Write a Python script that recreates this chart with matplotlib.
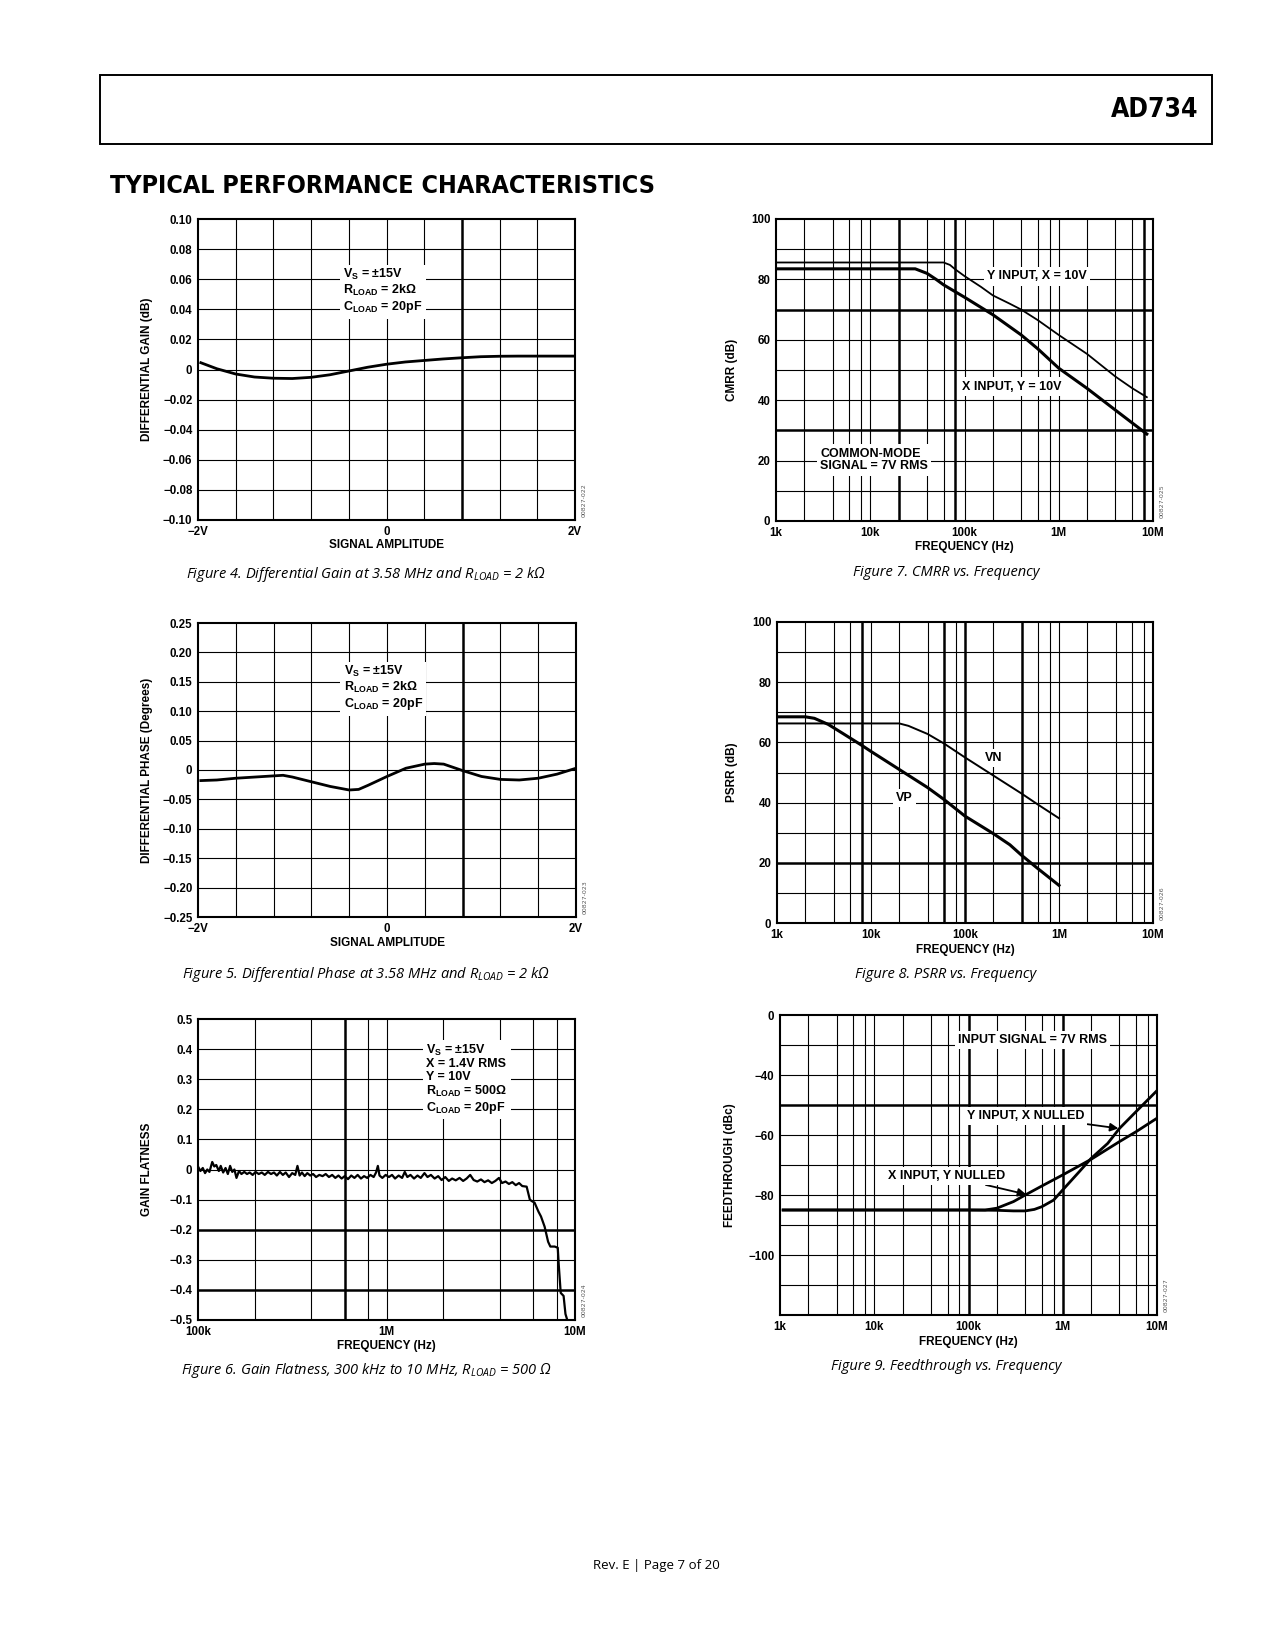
import numpy as np
import matplotlib
matplotlib.use('Agg')
import matplotlib.pyplot as plt
from matplotlib.patches import Rectangle
from matplotlib.ticker import NullLocator

W, H = 1275, 1650

plt.rcParams['font.family'] = ['Liberation Sans', 'DejaVu Sans']
plt.rcParams['font.weight'] = 'bold'
plt.rcParams['axes.labelweight'] = 'bold'
plt.rcParams['mathtext.fontset'] = 'custom'
plt.rcParams['mathtext.bf'] = 'Liberation Sans:weight=bold'
plt.rcParams['mathtext.rm'] = 'Liberation Sans:weight=bold'
plt.rcParams['mathtext.it'] = 'Open Sans:style=italic:weight=normal'

#%% Data
# Fig 4: differential gain vs signal amplitude
dg_amp  = [-1.97, -1.8, -1.6, -1.4, -1.2, -1.0, -0.8, -0.6, -0.4, -0.2, 0.0,
           0.2, 0.4, 0.6, 0.8, 1.0, 1.2, 1.4, 1.6, 1.8, 2.0]
dg_gain = [0.0045, 0.0005, -0.003, -0.005, -0.0058, -0.006, -0.0052, -0.0035,
           -0.001, 0.0015, 0.0035, 0.005, 0.006, 0.007, 0.0078, 0.0085,
           0.0088, 0.0089, 0.0089, 0.0089, 0.0089]

# Fig 5: differential phase vs signal amplitude
dp_amp   = [-1.97, -1.8, -1.6, -1.4, -1.2, -1.1, -1.0, -0.8, -0.6, -0.4, -0.3,
            -0.2, 0.0, 0.2, 0.4, 0.5, 0.6, 0.8, 1.0, 1.2, 1.4, 1.6, 1.8, 2.0]
dp_phase = [-0.018, -0.017, -0.014, -0.012, -0.010, -0.009, -0.012, -0.020,
            -0.028, -0.034, -0.033, -0.026, -0.011, 0.003, 0.010, 0.011, 0.010,
            -0.001, -0.011, -0.016, -0.017, -0.014, -0.007, 0.003]

# Fig 6: gain flatness (frequency in kHz)
gf_freq = [100, 103, 106, 109, 112, 115, 119, 122, 125, 129, 132, 136, 140,
           144, 148, 152, 156, 160, 165, 170, 176, 182, 188, 195, 202, 210,
           218, 226, 235, 244, 253, 262, 272, 282, 292, 304, 316, 328, 337,
           346, 356, 368, 380, 394, 408, 423, 440, 458, 476, 495, 515, 535,
           556, 578, 600, 625, 650, 676, 703, 732, 760, 790, 822, 855, 880,
           900, 918, 950, 990, 1030, 1070, 1110, 1160, 1210, 1250, 1290, 1340,
           1400, 1460, 1520, 1590, 1650, 1720, 1800, 1880, 1960, 2050, 2140,
           2230, 2330, 2440, 2550, 2660, 2780, 2900, 3030, 3170, 3310, 3460,
           3620, 3780, 3950, 4100, 4280, 4460, 4650, 4850, 5050, 5250, 5540,
           5760, 5900, 6100, 6400, 6600, 6900, 7200, 7400, 7800, 8100, 8200,
           8400, 8700, 8900, 9100]
gf_gain = [0.010, -0.005, 0.005, -0.012, 0.000, -0.008, 0.025, 0.010, 0.015,
           -0.005, 0.012, -0.010, 0.005, -0.015, 0.012, -0.008, 0.000, -0.028,
           -0.005, -0.015, -0.008, -0.015, -0.010, -0.018, -0.008, -0.015,
           -0.010, -0.018, -0.008, -0.015, -0.010, -0.020, -0.008, -0.018,
           -0.010, -0.025, -0.012, -0.018, 0.012, -0.020, -0.010, -0.022,
           -0.012, -0.020, -0.015, -0.025, -0.018, -0.022, -0.015, -0.025,
           -0.018, -0.028, -0.020, -0.030, -0.022, -0.032, -0.020, -0.028,
           -0.018, -0.030, -0.022, -0.028, -0.018, -0.025, -0.010, 0.012,
           -0.020, -0.028, -0.018, -0.025, -0.018, -0.030, -0.020, -0.028,
           -0.008, -0.025, -0.018, -0.030, -0.020, -0.028, -0.012, -0.025,
           -0.018, -0.030, -0.022, -0.035, -0.025, -0.038, -0.030, -0.036,
           -0.028, -0.038, -0.030, -0.018, -0.035, -0.040, -0.033, -0.042,
           -0.036, -0.045, -0.038, -0.028, -0.045, -0.040, -0.048, -0.042,
           -0.052, -0.045, -0.055, -0.057, -0.100, -0.105, -0.110, -0.140,
           -0.156, -0.190, -0.240, -0.256, -0.256, -0.260, -0.317, -0.410,
           -0.420, -0.480, -0.500]

# Fig 7: CMRR vs frequency
cm_y_freq = [1e3, 1e4, 6e4, 7e4, 8e4, 1e5, 1.5e5, 2e5, 3e5, 4e5, 6e5, 1e6,
             2e6, 4e6, 6e6, 8.6e6]
cm_y_db   = [85.6, 85.6, 85.6, 84.8, 83.3, 81.1, 77.5, 74.7, 72.0, 70.0, 66.5,
             61.6, 55.3, 47.8, 44.0, 41.0]
cm_x_freq = [1e3, 1e4, 3e4, 4e4, 5e4, 6e4, 1e5, 2e5, 4e5, 6e5, 1e6, 2e6, 4e6,
             6e6, 8.6e6]
cm_x_db   = [83.5, 83.5, 83.5, 82.0, 80.0, 78.2, 74.1, 68.3, 61.6, 57.0, 50.6,
             43.9, 36.7, 32.5, 28.8]

# Fig 8: PSRR vs frequency
ps_vp_freq = [1e3, 2e3, 2.5e3, 3.5e3, 5e3, 8e3, 1e4, 2e4, 4e4, 6e4, 1e5, 2e5,
              3e5, 4e5, 6e5, 1e6]
ps_vp_db   = [68.5, 68.5, 68.0, 66.0, 63.0, 59.0, 57.0, 51.0, 45.0, 41.0, 35.5,
              29.7, 26.0, 22.5, 18.0, 12.5]
ps_vn_freq = [1e3, 1e4, 2e4, 2.5e4, 4e4, 6e4, 1e5, 2e5, 4e5, 6e5, 1e6]
ps_vn_db   = [66.3, 66.3, 66.3, 65.5, 62.8, 59.6, 55.0, 49.0, 43.0, 39.3, 34.8]

# Fig 9: feedthrough vs frequency
ft_x_freq = [1.08e3, 1e4, 1e5, 1.5e5, 2e5, 3e5, 4e5, 6e5, 1e6, 2e6, 4e6, 6e6,
             1e7]
ft_x_db   = [-85, -85, -85, -85, -84.4, -82.2, -80.0, -77.0, -73.3, -68.1,
             -62.2, -58.9, -54.4]
ft_y_freq = [1.08e3, 1e4, 1e5, 2e5, 3e5, 4e5, 5e5, 6e5, 8e5, 1e6, 1.5e6, 2e6,
             3e6, 4e6, 6e6, 1e7]
ft_y_db   = [-85, -85, -85, -85.1, -85.3, -85.3, -84.8, -83.9, -81.7, -78.3,
             -72.2, -67.8, -62.8, -57.8, -52.2, -45.2]

MINUS = '\u2212'

#%% helpers
fig = plt.figure(figsize=(W/100, H/100), dpi=100)

def px_axes(l, t, r, b):
    return fig.add_axes([l/W, 1-b/H, (r-l)/W, (b-t)/H])

def ftext(x, y, s, **kw):
    return fig.text(x/W, 1-y/H, s, **kw)

def grid(ax, xs, ys, thick_x=(), thick_y=()):
    for v in xs:
        lw = 1.8 if np.any(np.isclose(v, thick_x)) else 0.8
        ax.axvline(v, color='k', lw=lw, zorder=1)
    for v in ys:
        lw = 1.8 if np.any(np.isclose(v, thick_y)) else 0.8
        ax.axhline(v, color='k', lw=lw, zorder=1)

def setup(ax, pos, xlim, ylim, xlab, ylab, code, log=False):
    l, t, r, b, ylx, xly = pos
    if log:
        ax.set_xscale('log')
        ax.xaxis.set_minor_locator(NullLocator())
    ax.set_xlim(xlim)
    ax.set_ylim(ylim)
    ax.tick_params(length=0, labelsize=8.3, pad=4)
    for s in ax.spines.values():
        s.set_linewidth(1.5)
        s.set_zorder(5)
    ax.set_xlabel(xlab, fontsize=8.5)
    ax.set_ylabel(ylab, fontsize=8.5)
    ax.xaxis.set_label_coords(0.5, -(xly - b)/(b - t))
    ax.xaxis.label.set_va('center')
    ax.yaxis.set_label_coords(-(l - ylx)/(r - l), 0.5)
    ax.yaxis.label.set_va('center')
    ftext(r + 9, b - 20, code, rotation=90, fontsize=4.5, fontweight='normal',
          family='DejaVu Sans', color='0.35', ha='center', va='center')

box = dict(boxstyle='square,pad=0.25', fc='white', ec='none')
log_grid = [m*10**d for d in range(3, 7) for m in (2, 4, 6, 8, 10)][:-1]

#%% Figure 4: differential gain
p1 = (198, 219, 575, 520, 147, 545)
ax1 = px_axes(*p1[:4])
setup(ax1, p1, (-2, 2), (-0.10, 0.10), 'SIGNAL AMPLITUDE',
      'DIFFERENTIAL GAIN (dB)', '00827-022')
grid(ax1, np.arange(-1.6, 2.0, 0.4), np.arange(-0.08, 0.1, 0.02), thick_x=[0.8])
ax1.plot(dg_amp, dg_gain, 'k', lw=2.0, zorder=4)
ax1.set_xticks([-2, 0, 2], [MINUS + '2V', '0', '2V'])
yt = np.round(np.arange(-0.10, 0.101, 0.02), 2)
ax1.set_yticks(yt, ['0' if v == 0 else f'{v:.2f}'.replace('-', MINUS) for v in yt])
ax1.text(-0.46, 0.052, 'V$_\\mathbf{S}$ = ±15V\nR$_\\mathbf{LOAD}$ = 2kΩ\nC$_\\mathbf{LOAD}$ = 20pF',
         fontsize=9, ha='left', va='center', linespacing=1.1, bbox=box, zorder=3)

#%% Figure 5: differential phase
p3 = (198, 623, 576, 917, 147, 943)
ax3 = px_axes(*p3[:4])
setup(ax3, p3, (-2, 2), (-0.25, 0.25), 'SIGNAL AMPLITUDE',
      'DIFFERENTIAL PHASE (Degrees)', '00827-023')
grid(ax3, np.arange(-1.6, 2.0, 0.4), np.arange(-0.20, 0.25, 0.05), thick_x=[0.8])
ax3.plot(dp_amp, dp_phase, 'k', lw=2.0, zorder=4)
ax3.set_xticks([-2, 0, 2], [MINUS + '2V', '0', '2V'])
yt = np.round(np.arange(-0.25, 0.251, 0.05), 2)
ax3.set_yticks(yt, ['0' if v == 0 else f'{v:.2f}'.replace('-', MINUS) for v in yt])
ax3.text(-0.46, 0.139, 'V$_\\mathbf{S}$ = ±15V\nR$_\\mathbf{LOAD}$ = 2kΩ\nC$_\\mathbf{LOAD}$ = 20pF',
         fontsize=9, ha='left', va='center', linespacing=1.1, bbox=box, zorder=3)

#%% Figure 6: gain flatness
p5 = (198, 1019, 575, 1320, 147, 1346)
ax5 = px_axes(*p5[:4])
setup(ax5, p5, (1e5, 1e7), (-0.5, 0.5), 'FREQUENCY (Hz)', 'GAIN FLATNESS',
      '00827-024', log=True)
grid(ax5, [2e5, 4e5, 6e5, 8e5, 1e6, 2e6, 4e6, 6e6, 8e6],
     np.arange(-0.4, 0.5, 0.1), thick_x=[6e5], thick_y=[-0.2, -0.4])
ax5.plot(np.array(gf_freq)*1e3, gf_gain, 'k', lw=1.6, zorder=4)
ax5.set_xticks([1e5, 1e6, 1e7], ['100k', '1M', '10M'])
yt = np.round(np.arange(-0.5, 0.51, 0.1), 1)
ax5.set_yticks(yt, ['0' if v == 0 else f'{v:.1f}'.replace('-', MINUS) for v in yt])
ax5.text(1.63e6, 0.300, 'V$_\\mathbf{S}$ = ±15V\nX = 1.4V RMS\nY = 10V\n'
         'R$_\\mathbf{LOAD}$ = 500Ω\nC$_\\mathbf{LOAD}$ = 20pF',
         fontsize=9, ha='left', va='center', linespacing=1.08, bbox=box, zorder=3)

#%% Figure 7: CMRR
p2 = (776, 219, 1153, 521, 732, 547)
ax2 = px_axes(*p2[:4])
setup(ax2, p2, (1e3, 1e7), (0, 100), 'FREQUENCY (Hz)', 'CMRR (dB)',
      '00827-025', log=True)
grid(ax2, log_grid, range(10, 100, 10), thick_x=[2e4, 8e4, 8e6], thick_y=[30, 70])
ax2.plot(cm_y_freq, cm_y_db, 'k', lw=1.3, zorder=4)
ax2.plot(cm_x_freq, cm_x_db, 'k', lw=2.2, zorder=4)
ax2.set_xticks([1e3, 1e4, 1e5, 1e6, 1e7], ['1k', '10k', '100k', '1M', '10M'])
ax2.set_yticks(range(0, 101, 20))
ax2.text(1.72e5, 81, 'Y INPUT, X = 10V', fontsize=9, ha='left', va='center',
         bbox=box, zorder=3)
ax2.text(9.3e4, 44.5, 'X INPUT, Y = 10V', fontsize=9, ha='left', va='center',
         bbox=box, zorder=3)
ax2.text(2.93e3, 20.2, 'COMMON-MODE\nSIGNAL = 7V RMS', fontsize=9, ha='left',
         va='center', linespacing=1.1, bbox=box, zorder=3)

#%% Figure 8: PSRR
p4 = (777, 622, 1153, 923, 732, 950)
ax4 = px_axes(*p4[:4])
setup(ax4, p4, (1e3, 1e7), (0, 100), 'FREQUENCY (Hz)', 'PSRR (dB)',
      '00827-026', log=True)
grid(ax4, log_grid, range(10, 100, 10), thick_x=[8e3, 6e4, 1e5, 4e5], thick_y=[20])
ax4.plot(ps_vn_freq, ps_vn_db, 'k', lw=1.4, zorder=4)
ax4.plot(ps_vp_freq, ps_vp_db, 'k', lw=2.2, zorder=4)
ax4.set_xticks([1e3, 1e4, 1e5, 1e6, 1e7], ['1k', '10k', '100k', '1M', '10M'])
ax4.set_yticks(range(0, 101, 20))
ax4.text(1.62e5, 54.9, 'VN', fontsize=9, ha='left', va='center', bbox=box, zorder=3)
ax4.text(1.86e4, 41.5, 'VP', fontsize=9, ha='left', va='center', bbox=box, zorder=3)

#%% Figure 9: feedthrough
p6 = (780, 1015, 1157, 1315, 730, 1342)
ax6 = px_axes(*p6[:4])
setup(ax6, p6, (1e3, 1e7), (-120, -20), 'FREQUENCY (Hz)', 'FEEDTHROUGH (dBc)',
      '00827-027', log=True)
grid(ax6, log_grid, range(-110, -20, 10), thick_x=[1e5, 1e6], thick_y=[-50])
ax6.plot(ft_x_freq, ft_x_db, 'k', lw=2.0, zorder=4)
ax6.plot(ft_y_freq, ft_y_db, 'k', lw=2.0, zorder=4)
ax6.set_xticks([1e3, 1e4, 1e5, 1e6, 1e7], ['1k', '10k', '100k', '1M', '10M'])
ax6.set_yticks([-20, -40, -60, -80, -100],
               ['0', MINUS + '40', MINUS + '60', MINUS + '80', MINUS + '100'])
ax6.text(7.76e4, -28.3, 'INPUT SIGNAL = 7V RMS', fontsize=9, ha='left',
         va='center', bbox=box, zorder=3)
arrow = dict(arrowstyle='-|>', lw=1.3, color='k', mutation_scale=12,
             shrinkA=0, shrinkB=0)
ax6.annotate('Y INPUT, X NULLED', xy=(3.9e6, -57.8), xytext=(9.6e4, -53.6),
             fontsize=9, ha='left', va='center', bbox=box, zorder=3,
             arrowprops=arrow)
ax6.annotate('X INPUT, Y NULLED', xy=(4.1e5, -79.8), xytext=(1.41e4, -73.6),
             fontsize=9, ha='left', va='center', bbox=box, zorder=3,
             arrowprops=arrow)

#%% Captions, page header and footer
cap = dict(family=['Open Sans', 'DejaVu Sans'], style='italic',
           fontweight='normal', fontsize=10.5, ha='center', va='center')
ftext(366, 574, 'Figure 4. Differential Gain at 3.58 MHz and R$_{LOAD}$ = 2 kΩ', **cap)
ftext(366, 974, 'Figure 5. Differential Phase at 3.58 MHz and R$_{LOAD}$ = 2 kΩ', **cap)
ftext(366, 1370, 'Figure 6. Gain Flatness, 300 kHz to 10 MHz, R$_{LOAD}$ = 500 Ω', **cap)
ftext(946, 573, 'Figure 7. CMRR vs. Frequency', **cap)
ftext(946, 974, 'Figure 8. PSRR vs. Frequency', **cap)
ftext(946, 1367, 'Figure 9. Feedthrough vs. Frequency', **cap)

fig.patches.append(Rectangle((100/W, 1-144/H), 1112/W, 69/H, transform=fig.transFigure,
                             fill=False, lw=1.4, ec='k'))
head = dict(family=['Liberation Sans Narrow', 'DejaVu Sans'], stretch='condensed',
            fontweight='bold')
ftext(1198, 110, 'AD734', fontsize=19, ha='right', va='center', **head)
ftext(110, 186, 'TYPICAL PERFORMANCE CHARACTERISTICS', fontsize=18, ha='left',
      va='center', **head)
ftext(656, 1565, 'Rev. E | Page 7 of 20', family=['Open Sans', 'DejaVu Sans'],
      fontweight='normal', fontsize=9.5, ha='center', va='center')

plt.savefig('out.png', dpi=100)
